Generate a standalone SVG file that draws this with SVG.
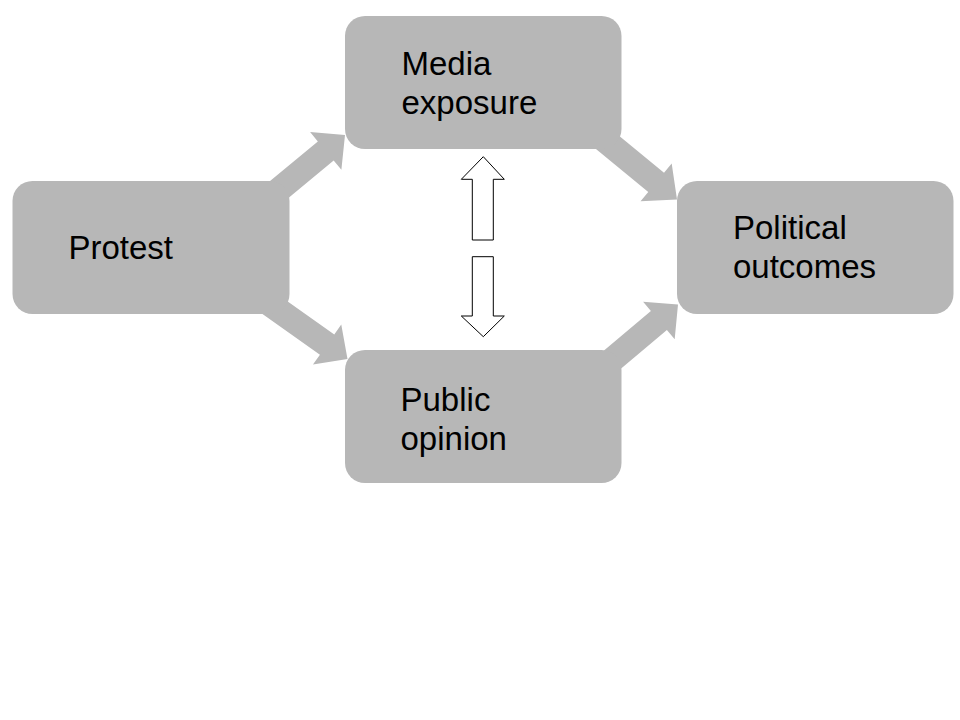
<svg xmlns="http://www.w3.org/2000/svg" width="960" height="720" viewBox="0 0 960 720">
<style>
.box{fill:#b7b7b7;}
.conn{fill:#b7b7b7;}
.hollow{fill:#ffffff;stroke:#000000;stroke-width:1;}
.lbl{font-family:"Liberation Sans",Arial,sans-serif;font-size:33px;fill:#000000;}
</style>
<rect width="960" height="720" fill="#ffffff"/>
<g id="connectors">
<polygon class="conn" points="268.21,214.75 333.66,160.50 341.38,169.82 345,135 310.12,132.08 317.84,141.40 252.39,195.65"/>
<polygon class="conn" points="250.43,305.53 319.93,354.68 312.94,364.57 347.5,359 341.26,324.53 334.27,334.42 264.77,285.27"/>
<polygon class="conn" points="584.1,139.24 648.26,191.95 640.57,201.3 677,199.5 671.69,163.42 664.0,172.77 599.84,120.06"/>
<polygon class="conn" points="601.84,384.83 666.9,330.1 674.68,339.34 678,304.5 643.12,301.86 650.91,311.11 585.86,365.85"/>
<polygon class="hollow" points="483.3,156.7 504.3,179.3 493.3,179.3 493.3,240 472.3,240 472.3,179.3 461.3,179.3"/>
<polygon class="hollow" points="483.3,336.7 504.3,316 493.3,316 493.3,256.7 472.3,256.7 472.3,316 461.3,316"/>
</g>
<g id="protest">
<rect class="box" x="12.5" y="181" width="277" height="133" rx="20" ry="20"/>
<text class="lbl" x="68.5" y="259">Protest</text>
</g>
<g id="media">
<rect class="box" x="345" y="16" width="276.5" height="133" rx="20" ry="20"/>
<text class="lbl" x="401.5"><tspan x="401.5" y="74.5">Media</tspan><tspan x="401.5" y="113.5">exposure</tspan></text>
</g>
<g id="public">
<rect class="box" x="345" y="350" width="276.5" height="133" rx="20" ry="20"/>
<text class="lbl" x="400.5"><tspan x="400.5" y="410.5">Public</tspan><tspan x="400.5" y="449.5">opinion</tspan></text>
</g>
<g id="political">
<rect class="box" x="677" y="181" width="276.5" height="133" rx="20" ry="20"/>
<text class="lbl" x="733"><tspan x="733" y="239">Political</tspan><tspan x="733" y="278">outcomes</tspan></text>
</g>
</svg>
